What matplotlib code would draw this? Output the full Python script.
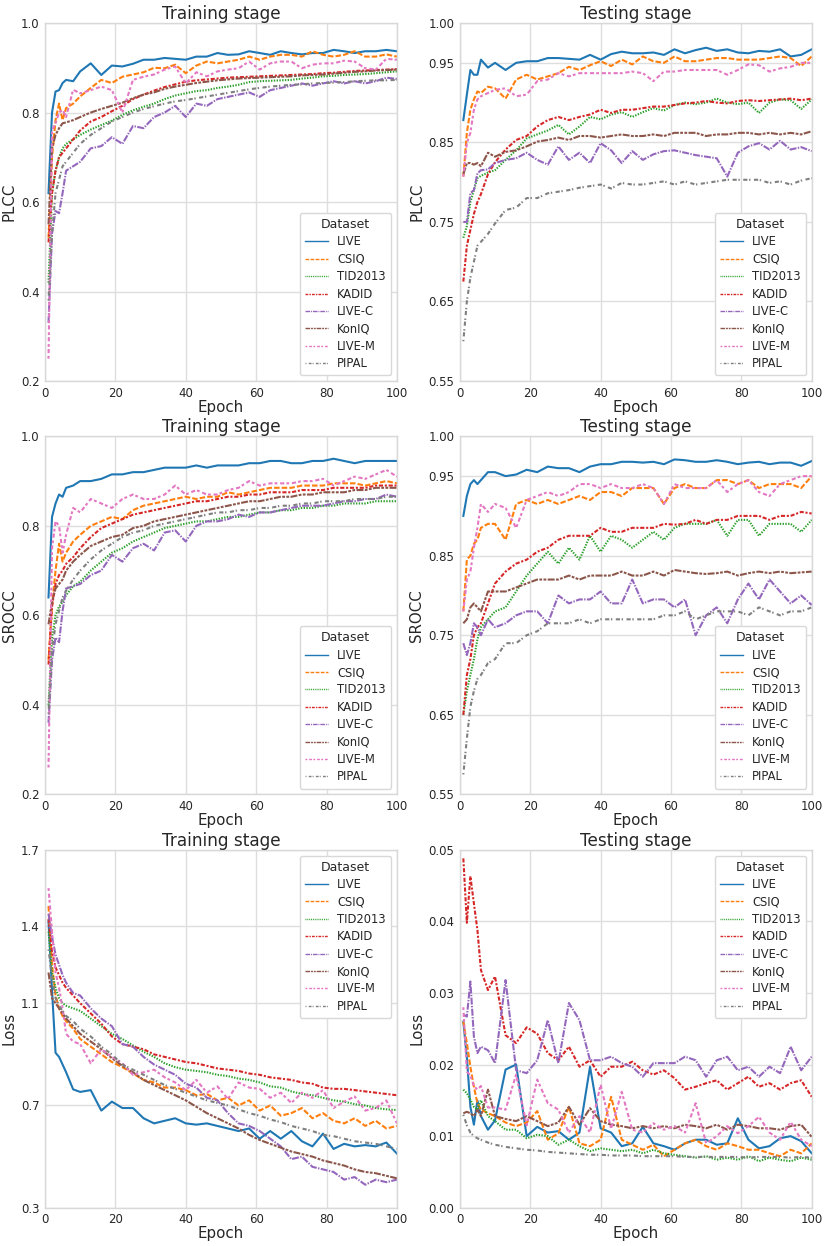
import matplotlib
matplotlib.use("Agg")
import matplotlib.pyplot as plt

epochs = [1, 2, 3, 4, 5, 6, 8, 10,
          13, 16, 19, 22, 25, 28, 31, 34, 37, 40,
          43, 46, 49, 52, 55, 58, 61, 64, 67, 70,
          73, 76, 79, 82, 85, 88, 91, 94, 97, 100]
datasets = ["LIVE", "CSIQ", "TID2013", "KADID", "LIVE-C", "KonIQ", "LIVE-M", "PIPAL"]

train_plcc = {
    "LIVE": [0.62, 0.80, 0.847, 0.85, 0.866, 0.873, 0.87, 0.892,
             0.91, 0.884, 0.905, 0.903, 0.909, 0.918, 0.918, 0.922, 0.92, 0.918,
             0.925, 0.925, 0.933, 0.929, 0.93, 0.937, 0.933, 0.929, 0.937, 0.933,
             0.93, 0.933, 0.933, 0.94, 0.937, 0.933, 0.937, 0.937, 0.94, 0.937],
    "CSIQ": [0.52, 0.70, 0.783, 0.82, 0.783, 0.81, 0.82, 0.836,
             0.855, 0.873, 0.866, 0.88, 0.885, 0.89, 0.90, 0.899, 0.907, 0.888,
             0.905, 0.914, 0.91, 0.914, 0.918, 0.925, 0.918, 0.925, 0.929, 0.929,
             0.925, 0.937, 0.929, 0.925, 0.929, 0.937, 0.925, 0.925, 0.93, 0.925],
    "TID2013": [0.42, 0.62, 0.67, 0.70, 0.72, 0.73, 0.74, 0.75,
                0.762, 0.772, 0.782, 0.795, 0.805, 0.813, 0.82, 0.83, 0.838, 0.843,
                0.848, 0.85, 0.855, 0.858, 0.862, 0.868, 0.87, 0.871, 0.872, 0.873,
                0.876, 0.878, 0.881, 0.882, 0.884, 0.885, 0.886, 0.888, 0.89, 0.892],
    "KADID": [0.51, 0.62, 0.67, 0.70, 0.71, 0.72, 0.74, 0.76,
              0.78, 0.79, 0.803, 0.815, 0.83, 0.84, 0.849, 0.857, 0.863, 0.869,
              0.872, 0.874, 0.876, 0.878, 0.879, 0.88, 0.881, 0.882, 0.883, 0.884,
              0.885, 0.886, 0.888, 0.889, 0.891, 0.893, 0.894, 0.895, 0.896, 0.897],
    "LIVE-C": [0.33, 0.53, 0.58, 0.575, 0.62, 0.67, 0.68, 0.69,
               0.72, 0.725, 0.745, 0.73, 0.77, 0.765, 0.79, 0.80, 0.815, 0.79,
               0.82, 0.815, 0.83, 0.835, 0.84, 0.845, 0.835, 0.85, 0.855, 0.86,
               0.865, 0.86, 0.865, 0.87, 0.865, 0.87, 0.865, 0.87, 0.878, 0.875],
    "KonIQ": [0.55, 0.72, 0.75, 0.765, 0.776, 0.778, 0.783, 0.79,
              0.80, 0.808, 0.815, 0.822, 0.832, 0.84, 0.845, 0.853, 0.858, 0.862,
              0.866, 0.869, 0.872, 0.874, 0.876, 0.877, 0.878, 0.879, 0.88, 0.881,
              0.883, 0.884, 0.885, 0.887, 0.889, 0.891, 0.892, 0.894, 0.895, 0.896],
    "LIVE-M": [0.25, 0.76, 0.776, 0.80, 0.806, 0.79, 0.851, 0.843,
               0.85, 0.858, 0.85, 0.80, 0.873, 0.88, 0.885, 0.896, 0.903, 0.865,
               0.89, 0.881, 0.892, 0.896, 0.899, 0.914, 0.896, 0.91, 0.914, 0.914,
               0.899, 0.907, 0.91, 0.91, 0.916, 0.914, 0.899, 0.896, 0.92, 0.918],
    "PIPAL": [0.38, 0.53, 0.62, 0.65, 0.68, 0.69, 0.71, 0.73,
              0.75, 0.765, 0.78, 0.79, 0.80, 0.808, 0.814, 0.82, 0.825, 0.828,
              0.832, 0.836, 0.84, 0.844, 0.848, 0.852, 0.855, 0.858, 0.86, 0.862,
              0.863, 0.865, 0.866, 0.867, 0.868, 0.87, 0.871, 0.872, 0.872, 0.873],
}

test_plcc = {
    "LIVE": [0.878, 0.91, 0.941, 0.935, 0.935, 0.954, 0.944, 0.95,
             0.941, 0.95, 0.952, 0.952, 0.956, 0.956, 0.955, 0.954, 0.96, 0.954,
             0.961, 0.964, 0.962, 0.962, 0.963, 0.96, 0.967, 0.962, 0.966, 0.969,
             0.965, 0.967, 0.963, 0.962, 0.965, 0.964, 0.967, 0.958, 0.96, 0.967],
    "CSIQ": [0.807, 0.862, 0.891, 0.904, 0.914, 0.912, 0.92, 0.918,
             0.905, 0.929, 0.935, 0.929, 0.933, 0.937, 0.945, 0.941, 0.947, 0.952,
             0.946, 0.954, 0.948, 0.958, 0.952, 0.95, 0.958, 0.952, 0.952, 0.954,
             0.956, 0.956, 0.954, 0.954, 0.954, 0.956, 0.958, 0.956, 0.946, 0.958],
    "TID2013": [0.73, 0.745, 0.775, 0.79, 0.805, 0.808, 0.812, 0.815,
                0.828, 0.84, 0.855, 0.86, 0.865, 0.872, 0.86, 0.87, 0.882, 0.879,
                0.885, 0.888, 0.882, 0.888, 0.893, 0.89, 0.897, 0.90, 0.898, 0.90,
                0.905, 0.90, 0.898, 0.90, 0.887, 0.90, 0.904, 0.903, 0.892, 0.904],
    "KADID": [0.675, 0.72, 0.74, 0.76, 0.775, 0.785, 0.81, 0.825,
              0.841, 0.853, 0.858, 0.87, 0.878, 0.882, 0.878, 0.882, 0.885, 0.891,
              0.887, 0.891, 0.891, 0.893, 0.895, 0.895, 0.897, 0.899, 0.90, 0.902,
              0.90, 0.899, 0.902, 0.903, 0.902, 0.903, 0.904, 0.905, 0.903, 0.905],
    "LIVE-C": [0.75, 0.75, 0.786, 0.79, 0.811, 0.815, 0.816, 0.824,
               0.828, 0.83, 0.837, 0.828, 0.822, 0.845, 0.828, 0.837, 0.824, 0.849,
               0.84, 0.824, 0.839, 0.828, 0.835, 0.839, 0.84, 0.837, 0.834, 0.832,
               0.83, 0.807, 0.837, 0.845, 0.849, 0.841, 0.852, 0.841, 0.844, 0.839],
    "KonIQ": [0.81, 0.824, 0.824, 0.822, 0.824, 0.82, 0.837, 0.832,
              0.838, 0.84, 0.845, 0.851, 0.853, 0.856, 0.853, 0.858, 0.858, 0.856,
              0.858, 0.86, 0.858, 0.858, 0.86, 0.858, 0.862, 0.862, 0.862, 0.858,
              0.86, 0.86, 0.862, 0.862, 0.86, 0.862, 0.86, 0.862, 0.86, 0.864],
    "LIVE-M": [0.807, 0.849, 0.862, 0.891, 0.904, 0.908, 0.912, 0.916,
               0.918, 0.908, 0.91, 0.927, 0.929, 0.937, 0.933, 0.937, 0.937, 0.937,
               0.937, 0.937, 0.939, 0.937, 0.927, 0.939, 0.939, 0.941, 0.941, 0.941,
               0.941, 0.935, 0.941, 0.948, 0.947, 0.939, 0.943, 0.945, 0.95, 0.95],
    "PIPAL": [0.60, 0.65, 0.68, 0.70, 0.72, 0.725, 0.735, 0.748,
              0.765, 0.768, 0.78, 0.78, 0.786, 0.788, 0.79, 0.793, 0.795, 0.797,
              0.792, 0.799, 0.797, 0.797, 0.799, 0.801, 0.797, 0.801, 0.797, 0.799,
              0.801, 0.803, 0.803, 0.803, 0.803, 0.799, 0.801, 0.797, 0.802, 0.805],
}

train_srocc = {
    "LIVE": [0.64, 0.82, 0.85, 0.87, 0.865, 0.885, 0.89, 0.90,
             0.90, 0.905, 0.915, 0.915, 0.92, 0.92, 0.925, 0.93, 0.93, 0.93,
             0.935, 0.93, 0.935, 0.935, 0.935, 0.94, 0.94, 0.945, 0.945, 0.94,
             0.94, 0.945, 0.945, 0.95, 0.945, 0.94, 0.945, 0.945, 0.945, 0.945],
    "CSIQ": [0.50, 0.62, 0.70, 0.76, 0.72, 0.74, 0.765, 0.78,
             0.80, 0.81, 0.82, 0.815, 0.835, 0.845, 0.85, 0.855, 0.86, 0.865,
             0.86, 0.865, 0.865, 0.875, 0.87, 0.875, 0.88, 0.885, 0.885, 0.885,
             0.89, 0.89, 0.89, 0.895, 0.895, 0.895, 0.89, 0.895, 0.90, 0.895],
    "TID2013": [0.40, 0.55, 0.60, 0.62, 0.63, 0.645, 0.665, 0.675,
                0.70, 0.72, 0.74, 0.75, 0.765, 0.775, 0.785, 0.795, 0.80, 0.805,
                0.81, 0.81, 0.815, 0.82, 0.82, 0.825, 0.83, 0.83, 0.835, 0.835,
                0.84, 0.84, 0.845, 0.845, 0.85, 0.85, 0.85, 0.855, 0.855, 0.855],
    "KADID": [0.49, 0.62, 0.67, 0.69, 0.70, 0.715, 0.73, 0.75,
              0.775, 0.795, 0.805, 0.815, 0.825, 0.83, 0.835, 0.84, 0.845, 0.85,
              0.855, 0.855, 0.86, 0.865, 0.865, 0.87, 0.87, 0.875, 0.875, 0.875,
              0.88, 0.88, 0.88, 0.885, 0.885, 0.885, 0.885, 0.89, 0.89, 0.89],
    "LIVE-C": [0.36, 0.50, 0.55, 0.54, 0.61, 0.66, 0.665, 0.67,
               0.69, 0.70, 0.735, 0.72, 0.75, 0.76, 0.745, 0.785, 0.79, 0.765,
               0.80, 0.81, 0.81, 0.815, 0.825, 0.82, 0.83, 0.83, 0.835, 0.84,
               0.845, 0.845, 0.845, 0.85, 0.855, 0.855, 0.86, 0.86, 0.87, 0.865],
    "KonIQ": [0.58, 0.63, 0.66, 0.67, 0.68, 0.70, 0.72, 0.735,
              0.755, 0.765, 0.775, 0.78, 0.795, 0.80, 0.81, 0.815, 0.82, 0.825,
              0.83, 0.835, 0.84, 0.845, 0.85, 0.855, 0.855, 0.86, 0.865, 0.865,
              0.87, 0.87, 0.875, 0.875, 0.875, 0.88, 0.88, 0.885, 0.885, 0.885],
    "LIVE-M": [0.26, 0.75, 0.81, 0.80, 0.74, 0.78, 0.84, 0.83,
               0.86, 0.85, 0.84, 0.86, 0.87, 0.86, 0.86, 0.87, 0.89, 0.87,
               0.88, 0.87, 0.87, 0.88, 0.885, 0.90, 0.89, 0.895, 0.895, 0.895,
               0.90, 0.90, 0.905, 0.89, 0.90, 0.91, 0.905, 0.915, 0.925, 0.91],
    "PIPAL": [0.38, 0.52, 0.58, 0.61, 0.64, 0.655, 0.68, 0.70,
              0.725, 0.745, 0.76, 0.775, 0.785, 0.79, 0.80, 0.805, 0.81, 0.815,
              0.82, 0.825, 0.83, 0.83, 0.835, 0.835, 0.84, 0.84, 0.845, 0.845,
              0.85, 0.85, 0.855, 0.855, 0.855, 0.86, 0.86, 0.86, 0.865, 0.865],
}

test_srocc = {
    "LIVE": [0.90, 0.925, 0.94, 0.945, 0.94, 0.945, 0.955, 0.955,
             0.95, 0.952, 0.958, 0.955, 0.962, 0.96, 0.96, 0.955, 0.962, 0.965,
             0.965, 0.968, 0.968, 0.967, 0.968, 0.965, 0.971, 0.97, 0.968, 0.968,
             0.97, 0.968, 0.965, 0.967, 0.968, 0.965, 0.967, 0.967, 0.963, 0.969],
    "CSIQ": [0.78, 0.845, 0.85, 0.865, 0.87, 0.885, 0.89, 0.89,
             0.87, 0.915, 0.92, 0.915, 0.92, 0.915, 0.92, 0.925, 0.92, 0.93,
             0.93, 0.925, 0.935, 0.935, 0.935, 0.915, 0.935, 0.94, 0.935, 0.935,
             0.945, 0.945, 0.94, 0.945, 0.935, 0.94, 0.94, 0.94, 0.935, 0.95],
    "TID2013": [0.65, 0.68, 0.70, 0.72, 0.745, 0.76, 0.77, 0.78,
                0.785, 0.805, 0.825, 0.84, 0.855, 0.84, 0.86, 0.845, 0.875, 0.855,
                0.875, 0.87, 0.86, 0.87, 0.88, 0.87, 0.885, 0.89, 0.89, 0.89,
                0.895, 0.875, 0.895, 0.895, 0.875, 0.89, 0.89, 0.89, 0.88, 0.895],
    "KADID": [0.65, 0.70, 0.72, 0.75, 0.76, 0.765, 0.79, 0.815,
              0.83, 0.84, 0.845, 0.855, 0.86, 0.87, 0.875, 0.875, 0.875, 0.885,
              0.88, 0.88, 0.885, 0.885, 0.885, 0.89, 0.889, 0.89, 0.895, 0.89,
              0.895, 0.895, 0.90, 0.90, 0.90, 0.895, 0.90, 0.90, 0.905, 0.903],
    "LIVE-C": [0.74, 0.725, 0.74, 0.765, 0.76, 0.75, 0.77, 0.76,
               0.765, 0.775, 0.78, 0.78, 0.765, 0.80, 0.79, 0.795, 0.795, 0.805,
               0.79, 0.79, 0.82, 0.79, 0.795, 0.795, 0.785, 0.795, 0.75, 0.775,
               0.785, 0.765, 0.795, 0.815, 0.795, 0.82, 0.805, 0.79, 0.80, 0.788],
    "KonIQ": [0.765, 0.77, 0.785, 0.79, 0.785, 0.78, 0.805, 0.805,
              0.805, 0.81, 0.815, 0.82, 0.82, 0.82, 0.825, 0.82, 0.825, 0.825,
              0.825, 0.83, 0.825, 0.825, 0.83, 0.825, 0.832, 0.83, 0.828, 0.827,
              0.828, 0.83, 0.825, 0.828, 0.83, 0.828, 0.83, 0.828, 0.829, 0.83],
    "LIVE-M": [0.78, 0.82, 0.83, 0.86, 0.885, 0.915, 0.905, 0.915,
               0.91, 0.885, 0.92, 0.925, 0.93, 0.925, 0.93, 0.94, 0.94, 0.935,
               0.94, 0.935, 0.935, 0.94, 0.935, 0.915, 0.94, 0.935, 0.935, 0.935,
               0.945, 0.93, 0.94, 0.945, 0.93, 0.925, 0.94, 0.945, 0.95, 0.95],
    "PIPAL": [0.575, 0.62, 0.66, 0.68, 0.695, 0.70, 0.715, 0.72,
              0.74, 0.74, 0.75, 0.755, 0.765, 0.765, 0.765, 0.77, 0.765, 0.77,
              0.77, 0.77, 0.77, 0.77, 0.77, 0.775, 0.775, 0.78, 0.77, 0.775,
              0.78, 0.78, 0.78, 0.775, 0.785, 0.78, 0.775, 0.78, 0.78, 0.785],
}

train_loss = {
    "LIVE": [1.42, 1.15, 0.906, 0.89, 0.86, 0.83, 0.763, 0.753,
             0.76, 0.68, 0.715, 0.69, 0.69, 0.65, 0.63, 0.64, 0.65, 0.63,
             0.625, 0.63, 0.62, 0.61, 0.60, 0.61, 0.57, 0.60, 0.57, 0.60,
             0.56, 0.54, 0.59, 0.53, 0.55, 0.54, 0.545, 0.54, 0.555, 0.512],
    "CSIQ": [1.48, 1.25, 1.13, 1.08, 1.05, 1.03, 1.00, 0.96,
             0.93, 0.90, 0.87, 0.85, 0.825, 0.80, 0.79, 0.77, 0.77, 0.76,
             0.74, 0.745, 0.72, 0.73, 0.70, 0.72, 0.68, 0.70, 0.66, 0.67,
             0.69, 0.65, 0.67, 0.64, 0.63, 0.65, 0.62, 0.64, 0.61, 0.62],
    "TID2013": [1.38, 1.22, 1.16, 1.12, 1.10, 1.09, 1.08, 1.07,
                1.04, 1.01, 0.98, 0.96, 0.935, 0.91, 0.89, 0.865, 0.85, 0.84,
                0.835, 0.83, 0.82, 0.815, 0.805, 0.80, 0.79, 0.775, 0.77, 0.755,
                0.745, 0.74, 0.73, 0.72, 0.715, 0.705, 0.70, 0.69, 0.685, 0.682],
    "KADID": [1.43, 1.30, 1.24, 1.21, 1.18, 1.16, 1.13, 1.10,
              1.06, 1.02, 0.97, 0.94, 0.93, 0.92, 0.90, 0.89, 0.88, 0.87,
              0.865, 0.855, 0.845, 0.84, 0.835, 0.825, 0.82, 0.81, 0.805, 0.80,
              0.79, 0.785, 0.77, 0.765, 0.765, 0.76, 0.755, 0.75, 0.745, 0.74],
    "LIVE-C": [1.45, 1.36, 1.29, 1.25, 1.21, 1.18, 1.14, 1.13,
               1.08, 1.04, 1.01, 0.94, 0.93, 0.89, 0.86, 0.84, 0.82, 0.785,
               0.77, 0.73, 0.72, 0.67, 0.63, 0.62, 0.60, 0.57, 0.54, 0.49,
               0.50, 0.46, 0.45, 0.44, 0.41, 0.42, 0.39, 0.41, 0.40, 0.41],
    "KonIQ": [1.22, 1.12, 1.10, 1.08, 1.06, 1.04, 1.01, 0.98,
              0.95, 0.92, 0.885, 0.855, 0.83, 0.80, 0.78, 0.76, 0.74, 0.72,
              0.695, 0.67, 0.65, 0.63, 0.61, 0.585, 0.565, 0.55, 0.535, 0.52,
              0.51, 0.50, 0.485, 0.475, 0.465, 0.45, 0.44, 0.435, 0.425, 0.415],
    "LIVE-M": [1.55, 1.38, 1.22, 1.16, 1.08, 0.98, 0.95, 0.94,
               0.865, 0.92, 0.89, 0.865, 0.82, 0.83, 0.84, 0.81, 0.79, 0.76,
               0.80, 0.75, 0.775, 0.725, 0.79, 0.77, 0.765, 0.73, 0.75, 0.71,
               0.75, 0.73, 0.76, 0.69, 0.715, 0.735, 0.68, 0.69, 0.72, 0.63],
    "PIPAL": [1.31, 1.20, 1.12, 1.09, 1.07, 1.05, 1.03, 1.00,
              0.97, 0.93, 0.90, 0.86, 0.84, 0.82, 0.80, 0.78, 0.765, 0.75,
              0.735, 0.72, 0.71, 0.70, 0.685, 0.67, 0.66, 0.645, 0.635, 0.62,
              0.61, 0.60, 0.585, 0.58, 0.57, 0.56, 0.555, 0.55, 0.54, 0.53],
}

test_loss = {
    "LIVE": [0.026, 0.021, 0.0141, 0.0116, 0.015, 0.0128, 0.0109, 0.0122,
             0.0193, 0.020, 0.010, 0.0113, 0.0105, 0.0107, 0.0095, 0.0105, 0.0197, 0.0111,
             0.0105, 0.0086, 0.009, 0.0113, 0.009, 0.0086, 0.0081, 0.009, 0.0095, 0.0095,
             0.0088, 0.009, 0.0125, 0.0095, 0.0083, 0.0086, 0.0097, 0.010, 0.0093, 0.0076],
    "CSIQ": [0.026, 0.023, 0.0197, 0.0169, 0.0146, 0.0137, 0.0132, 0.0128,
             0.0119, 0.0114, 0.0119, 0.0135, 0.0095, 0.0104, 0.0141, 0.009, 0.0086, 0.0095,
             0.0155, 0.0095, 0.0088, 0.0081, 0.0088, 0.0072, 0.0081, 0.009, 0.0095, 0.0086,
             0.0081, 0.009, 0.0086, 0.0081, 0.0081, 0.0076, 0.0072, 0.0081, 0.0076, 0.009],
    "TID2013": [0.0165, 0.016, 0.0151, 0.0141, 0.0137, 0.015, 0.0128, 0.0121,
                0.0109, 0.0109, 0.0097, 0.0102, 0.010, 0.0088, 0.0095, 0.0086, 0.0079, 0.0083,
                0.0081, 0.0079, 0.0081, 0.0076, 0.0081, 0.0076, 0.0074, 0.0072, 0.007, 0.0072,
                0.0067, 0.007, 0.0067, 0.0072, 0.0065, 0.007, 0.0067, 0.0065, 0.007, 0.0067],
    "KADID": [0.0488, 0.0398, 0.0463, 0.0425, 0.0388, 0.0332, 0.0304, 0.0323,
              0.0241, 0.023, 0.0252, 0.0243, 0.0216, 0.0206, 0.0225, 0.0197, 0.0206, 0.0183,
              0.0197, 0.0197, 0.0204, 0.0192, 0.0186, 0.0192, 0.0181, 0.0165, 0.0169, 0.0174,
              0.0178, 0.0165, 0.0174, 0.0183, 0.0169, 0.0174, 0.0165, 0.0174, 0.0178, 0.0155],
    "LIVE-C": [0.027, 0.0267, 0.0316, 0.0239, 0.0216, 0.0225, 0.022, 0.0202,
               0.0318, 0.0192, 0.0188, 0.0206, 0.0262, 0.0202, 0.0286, 0.0262, 0.0206, 0.0206,
               0.0211, 0.0202, 0.0197, 0.0183, 0.0202, 0.0202, 0.0202, 0.0211, 0.0206, 0.0183,
               0.0206, 0.0211, 0.0192, 0.0197, 0.0183, 0.0197, 0.0188, 0.0225, 0.0192, 0.0211],
    "KonIQ": [0.0132, 0.0134, 0.0132, 0.0128, 0.0137, 0.0128, 0.0165, 0.0128,
              0.0124, 0.0121, 0.0128, 0.0121, 0.0114, 0.0119, 0.0141, 0.0116, 0.0139, 0.0121,
              0.0116, 0.0114, 0.0111, 0.0114, 0.0111, 0.0114, 0.0111, 0.0116, 0.0114, 0.0111,
              0.0116, 0.0109, 0.0116, 0.0114, 0.0111, 0.0111, 0.0109, 0.0114, 0.0116, 0.0099],
    "LIVE-M": [0.028, 0.019, 0.0185, 0.017, 0.0165, 0.017, 0.014, 0.014,
               0.0137, 0.0186, 0.0115, 0.0179, 0.0146, 0.0137, 0.0105, 0.0128, 0.0105, 0.0172,
               0.011, 0.0162, 0.0109, 0.0105, 0.0118, 0.0109, 0.0114, 0.0105, 0.0146, 0.009,
               0.010, 0.0114, 0.0104, 0.0114, 0.0127, 0.0105, 0.0095, 0.012, 0.0095, 0.0086],
    "PIPAL": [0.013, 0.0115, 0.0105, 0.010, 0.0097, 0.0095, 0.0091, 0.0088,
              0.0085, 0.0083, 0.0081, 0.008, 0.0078, 0.0077, 0.0076, 0.0075, 0.0074, 0.0074,
              0.0073, 0.0073, 0.0073, 0.0072, 0.0072, 0.0072, 0.0072, 0.0071, 0.0071, 0.0071,
              0.0071, 0.0071, 0.0071, 0.007, 0.0071, 0.0071, 0.0071, 0.007, 0.0071, 0.007],
}

colors = ["#1f77b4", "#ff7f0e", "#2ca02c", "#d62728",
          "#9467bd", "#8c564b", "#e377c2", "#7f7f7f"]
dashes = [None, (4, 1.5), (1, 1), (3, 1.25, 1.5, 1.25),
          (5, 1, 1, 1), (5, 1, 2, 1, 2, 1), (2, 2, 3, 1.5), (1, 2.5, 3, 1.2)]

LW = 1.5


def draw(ax, data, title, ylabel, ylim, yticks, yfmt, loc):
    for name, c, d in zip(datasets, colors, dashes):
        line, = ax.plot(epochs, data[name], color=c, lw=LW, label=name)
        if d is not None:
            # dash units of about 1pt, as in the reference
            line.set_dashes([v / LW for v in d])
    ax.set_xlim(0, 100)
    ax.set_ylim(*ylim)
    ax.set_xticks([0, 20, 40, 60, 80, 100])
    ax.set_yticks(yticks)
    ax.set_yticklabels([yfmt.format(v) for v in yticks])
    ax.grid(True, color="#dedede", lw=1.0)
    ax.set_axisbelow(True)
    for s in ax.spines.values():
        s.set_color("#d8d8d8")
        s.set_linewidth(1.0)
    ax.tick_params(length=0, labelsize=8.5, pad=4, colors="0.15")
    ax.set_title(title, fontsize=12.2, pad=2, color="0.15")
    ax.set_xlabel("Epoch", fontsize=10.8, labelpad=0, color="0.15")
    ax.set_ylabel(ylabel, fontsize=10.8, labelpad=3, color="0.15")
    leg = ax.legend(title="Dataset", loc=loc, fontsize=8.3, title_fontsize=9,
                    labelspacing=0.38, handlelength=2.0, borderpad=0.45,
                    fancybox=True, framealpha=1.0)
    leg.get_frame().set_edgecolor("#d8d8d8")
    leg.get_title().set_color("0.15")
    for t in leg.get_texts():
        t.set_color("0.15")
    for h in leg.get_lines():
        h.set_linewidth(1.0)


fig = plt.figure(figsize=(8.3, 12.46), dpi=100)
W, H = 0.424, 0.2873
left = [0.0542, 0.554]
bottom = [0.6942, 0.3625, 0.0307]

plcc_ticks = [0.2, 0.4, 0.6, 0.8, 1.0]
test_ticks = [0.55, 0.65, 0.75, 0.85, 0.95, 1.00]

ax = fig.add_axes([left[0], bottom[0], W, H])
draw(ax, train_plcc, "Training stage", "PLCC", (0.2, 1.0), plcc_ticks, "{:.1f}", "lower right")
ax = fig.add_axes([left[1], bottom[0], W, H])
draw(ax, test_plcc, "Testing stage", "PLCC", (0.55, 1.0), test_ticks, "{:.2f}", "lower right")
ax = fig.add_axes([left[0], bottom[1], W, H])
draw(ax, train_srocc, "Training stage", "SROCC", (0.2, 1.0), plcc_ticks, "{:.1f}", "lower right")
ax = fig.add_axes([left[1], bottom[1], W, H])
draw(ax, test_srocc, "Testing stage", "SROCC", (0.55, 1.0), test_ticks, "{:.2f}", "lower right")
ax = fig.add_axes([left[0], bottom[2], W, H])
draw(ax, train_loss, "Training stage", "Loss", (0.3, 1.7), [0.3, 0.7, 1.1, 1.4, 1.7], "{:.1f}", "upper right")
ax = fig.add_axes([left[1], bottom[2], W, H])
draw(ax, test_loss, "Testing stage", "Loss", (0.0, 0.05),
     [0.0, 0.01, 0.02, 0.03, 0.04, 0.05], "{:.2f}", "upper right")

fig.savefig("out.png", dpi=100)
